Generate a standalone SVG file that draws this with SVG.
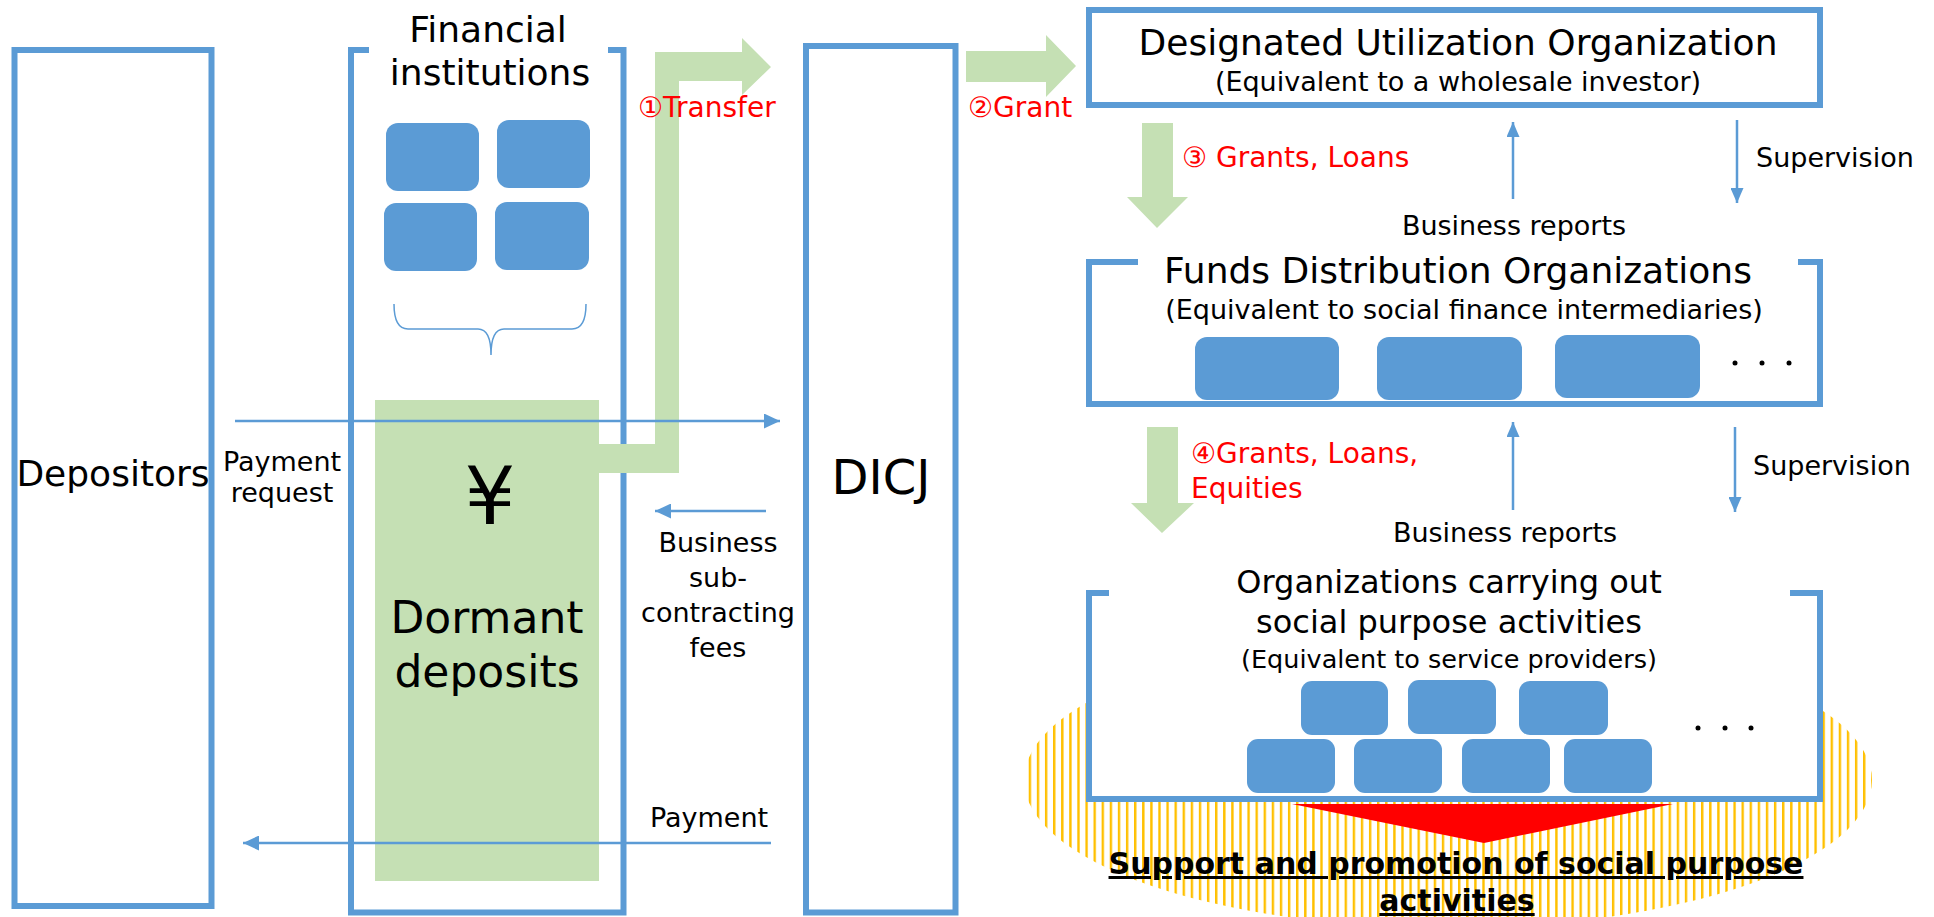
<svg xmlns="http://www.w3.org/2000/svg" width="1934" height="917" viewBox="0 0 1934 917">
<style>
text{font-family:"DejaVu Sans","Noto Sans CJK JP",sans-serif;fill:#000}
.box{fill:#fff;stroke:#5B9BD5;stroke-width:6}
.open{fill:none;stroke:#5B9BD5;stroke-width:6}
.blk{fill:#5B9BD5}
.green{fill:#C5E0B4}
.conn{stroke:#5B9BD5;stroke-width:2.5;fill:none}
.t36{font-size:36px}
.t27{font-size:27px}
.red{font-size:28px;fill:#FF0000}
.mid{text-anchor:middle}
.dot{fill:#000}
</style>
<defs>
<marker id="ah" markerUnits="userSpaceOnUse" markerWidth="16" markerHeight="15" refX="16" refY="7.5" orient="auto">
<path d="M0,0 L16,7.5 L0,15 z" fill="#5B9BD5"/>
</marker>
<marker id="ahv" markerUnits="userSpaceOnUse" markerWidth="15" markerHeight="13" refX="15" refY="6.5" orient="auto">
<path d="M0,0 L15,6.5 L0,13 z" fill="#5B9BD5"/>
</marker>
<pattern id="hatch" patternUnits="userSpaceOnUse" width="8.1" height="10">
<rect x="0" y="0" width="2.4" height="10" fill="#FFC000"/>
</pattern>
</defs>

<g id="depositors">
<rect class="box" x="14.5" y="50" width="197" height="856"/>
<text class="t36 mid" x="113" y="486">Depositors</text>
</g>

<g id="financial-institutions">
<path class="open" d="M369,50 H351 V912.5 H623.5 V50 H608"/>
<text class="t36 mid" x="488" y="42">Financial</text>
<text class="t36 mid" x="490" y="85">institutions</text>
<rect class="blk" x="386" y="123" width="93" height="68" rx="12"/>
<rect class="blk" x="497" y="120" width="93" height="68" rx="12"/>
<rect class="blk" x="384" y="203" width="93" height="68" rx="12"/>
<rect class="blk" x="495" y="202" width="94" height="68" rx="12"/>
<path d="M394,304 Q394,329 408,329 L478,329 Q491,329 491,355 Q491,329 504,329 L572,329 Q586,329 586,304" fill="none" stroke="#5B9BD5" stroke-width="1.5"/>
</g>

<g id="dormant-deposits">
<path class="green" d="M375,400 H599 V444 H655 V52 H742 V38 L771,67 L742,95 V81 H679 V473 H599 V881 H375 Z"/>
<text class="mid" x="490" y="524" style="font-size:80px">¥</text>
<text class="mid" x="487" y="633" style="font-size:44px">Dormant</text>
<text class="mid" x="487" y="687" style="font-size:44px">deposits</text>
</g>

<g id="dicj">
<rect class="box" x="806" y="46" width="149.5" height="866.5"/>
<text class="mid" x="881" y="494" style="font-size:48px">DICJ</text>
</g>

<g id="duo">
<rect class="box" x="1089" y="10" width="731" height="95"/>
<text class="t36 mid" x="1458" y="55">Designated Utilization Organization</text>
<text class="t27 mid" x="1458" y="91">(Equivalent to a wholesale investor)</text>
</g>

<g id="fdo">
<path class="open" d="M1138,262 H1089 V404 H1820 V262 H1798"/>
<text class="t36 mid" x="1458" y="283">Funds Distribution Organizations</text>
<text class="t27 mid" x="1464" y="319">(Equivalent to social finance intermediaries)</text>
<rect class="blk" x="1195" y="337" width="144" height="63" rx="12"/>
<rect class="blk" x="1377" y="337" width="145" height="63" rx="12"/>
<rect class="blk" x="1555" y="335" width="145" height="63" rx="12"/>
<circle class="dot" cx="1735" cy="363" r="2.5"/>
<circle class="dot" cx="1762" cy="363" r="2.5"/>
<circle class="dot" cx="1789" cy="363" r="2.5"/>
</g>

<g id="support-area">
<ellipse cx="1448" cy="780" rx="424" ry="148" fill="url(#hatch)"/>
</g>

<g id="ocspa">
<path d="M1089,593 V799 H1820 V593 Z" fill="#fff"/>
<path class="open" d="M1109,593 H1089 V799 H1820 V593 H1790"/>
<text class="mid" x="1449" y="593" style="font-size:32px">Organizations carrying out</text>
<text class="mid" x="1449" y="633" style="font-size:32px">social purpose activities</text>
<text class="mid" x="1449" y="668" style="font-size:25.5px">(Equivalent to service providers)</text>
<rect class="blk" x="1301" y="681" width="87" height="54" rx="11"/>
<rect class="blk" x="1408" y="680" width="88" height="54" rx="11"/>
<rect class="blk" x="1519" y="681" width="89" height="54" rx="11"/>
<rect class="blk" x="1247" y="739" width="88" height="54" rx="11"/>
<rect class="blk" x="1354" y="739" width="88" height="54" rx="11"/>
<rect class="blk" x="1462" y="739" width="88" height="54" rx="11"/>
<rect class="blk" x="1564" y="739" width="88" height="54" rx="11"/>
<circle class="dot" cx="1698" cy="728" r="2.5"/>
<circle class="dot" cx="1725" cy="728" r="2.5"/>
<circle class="dot" cx="1751" cy="728" r="2.5"/>
</g>

<g id="result">
<path d="M1292,804 H1673 L1484,843 Z" fill="#FF0000"/>
<text class="mid" x="1456" y="874" style="font-size:30px;font-weight:bold;text-decoration:underline">Support and promotion of social purpose</text>
<text class="mid" x="1457" y="911" style="font-size:30px;font-weight:bold;text-decoration:underline">activities</text>
</g>

<g id="connectors">
<line class="conn" x1="235" y1="421" x2="780" y2="421" marker-end="url(#ah)"/>
<line class="conn" x1="766" y1="511" x2="655" y2="511" marker-end="url(#ah)"/>
<line class="conn" x1="771" y1="843" x2="243" y2="843" marker-end="url(#ah)"/>
<line class="conn" x1="1513" y1="199" x2="1513" y2="122" marker-end="url(#ahv)"/>
<line class="conn" x1="1737" y1="120" x2="1737" y2="203" marker-end="url(#ahv)"/>
<line class="conn" x1="1513" y1="510" x2="1513" y2="422" marker-end="url(#ahv)"/>
<line class="conn" x1="1735" y1="427" x2="1735" y2="512" marker-end="url(#ahv)"/>
<path class="green" d="M966,51 H1046 V35 L1076,66 L1046,97 V82 H966 Z"/>
<path class="green" d="M1142,123 H1173 V197 H1188 L1157,228 L1127,197 H1142 Z"/>
<path class="green" d="M1147,427 H1178 V503 H1194 L1162,533 L1131,503 H1147 Z"/>
<text class="t27 mid" x="282" y="471">Payment</text>
<text class="t27 mid" x="282" y="502">request</text>
<text class="t27 mid" x="718" y="552">Business</text>
<text class="t27 mid" x="718" y="587">sub-</text>
<text class="t27 mid" x="718" y="622">contracting</text>
<text class="t27 mid" x="718" y="657">fees</text>
<text class="t27 mid" x="709" y="827">Payment</text>
<text class="red" x="638" y="117">①Transfer</text>
<text class="red" x="968" y="117">②Grant</text>
<text class="red" x="1182" y="167">③ Grants, Loans</text>
<text class="red" x="1191" y="463">④Grants, Loans,</text>
<text class="red" x="1191" y="498">Equities</text>
<text class="t27 mid" x="1514" y="235">Business reports</text>
<text class="t27" x="1756" y="167">Supervision</text>
<text class="t27 mid" x="1505" y="542">Business reports</text>
<text class="t27" x="1753" y="475">Supervision</text>
</g>
</svg>
